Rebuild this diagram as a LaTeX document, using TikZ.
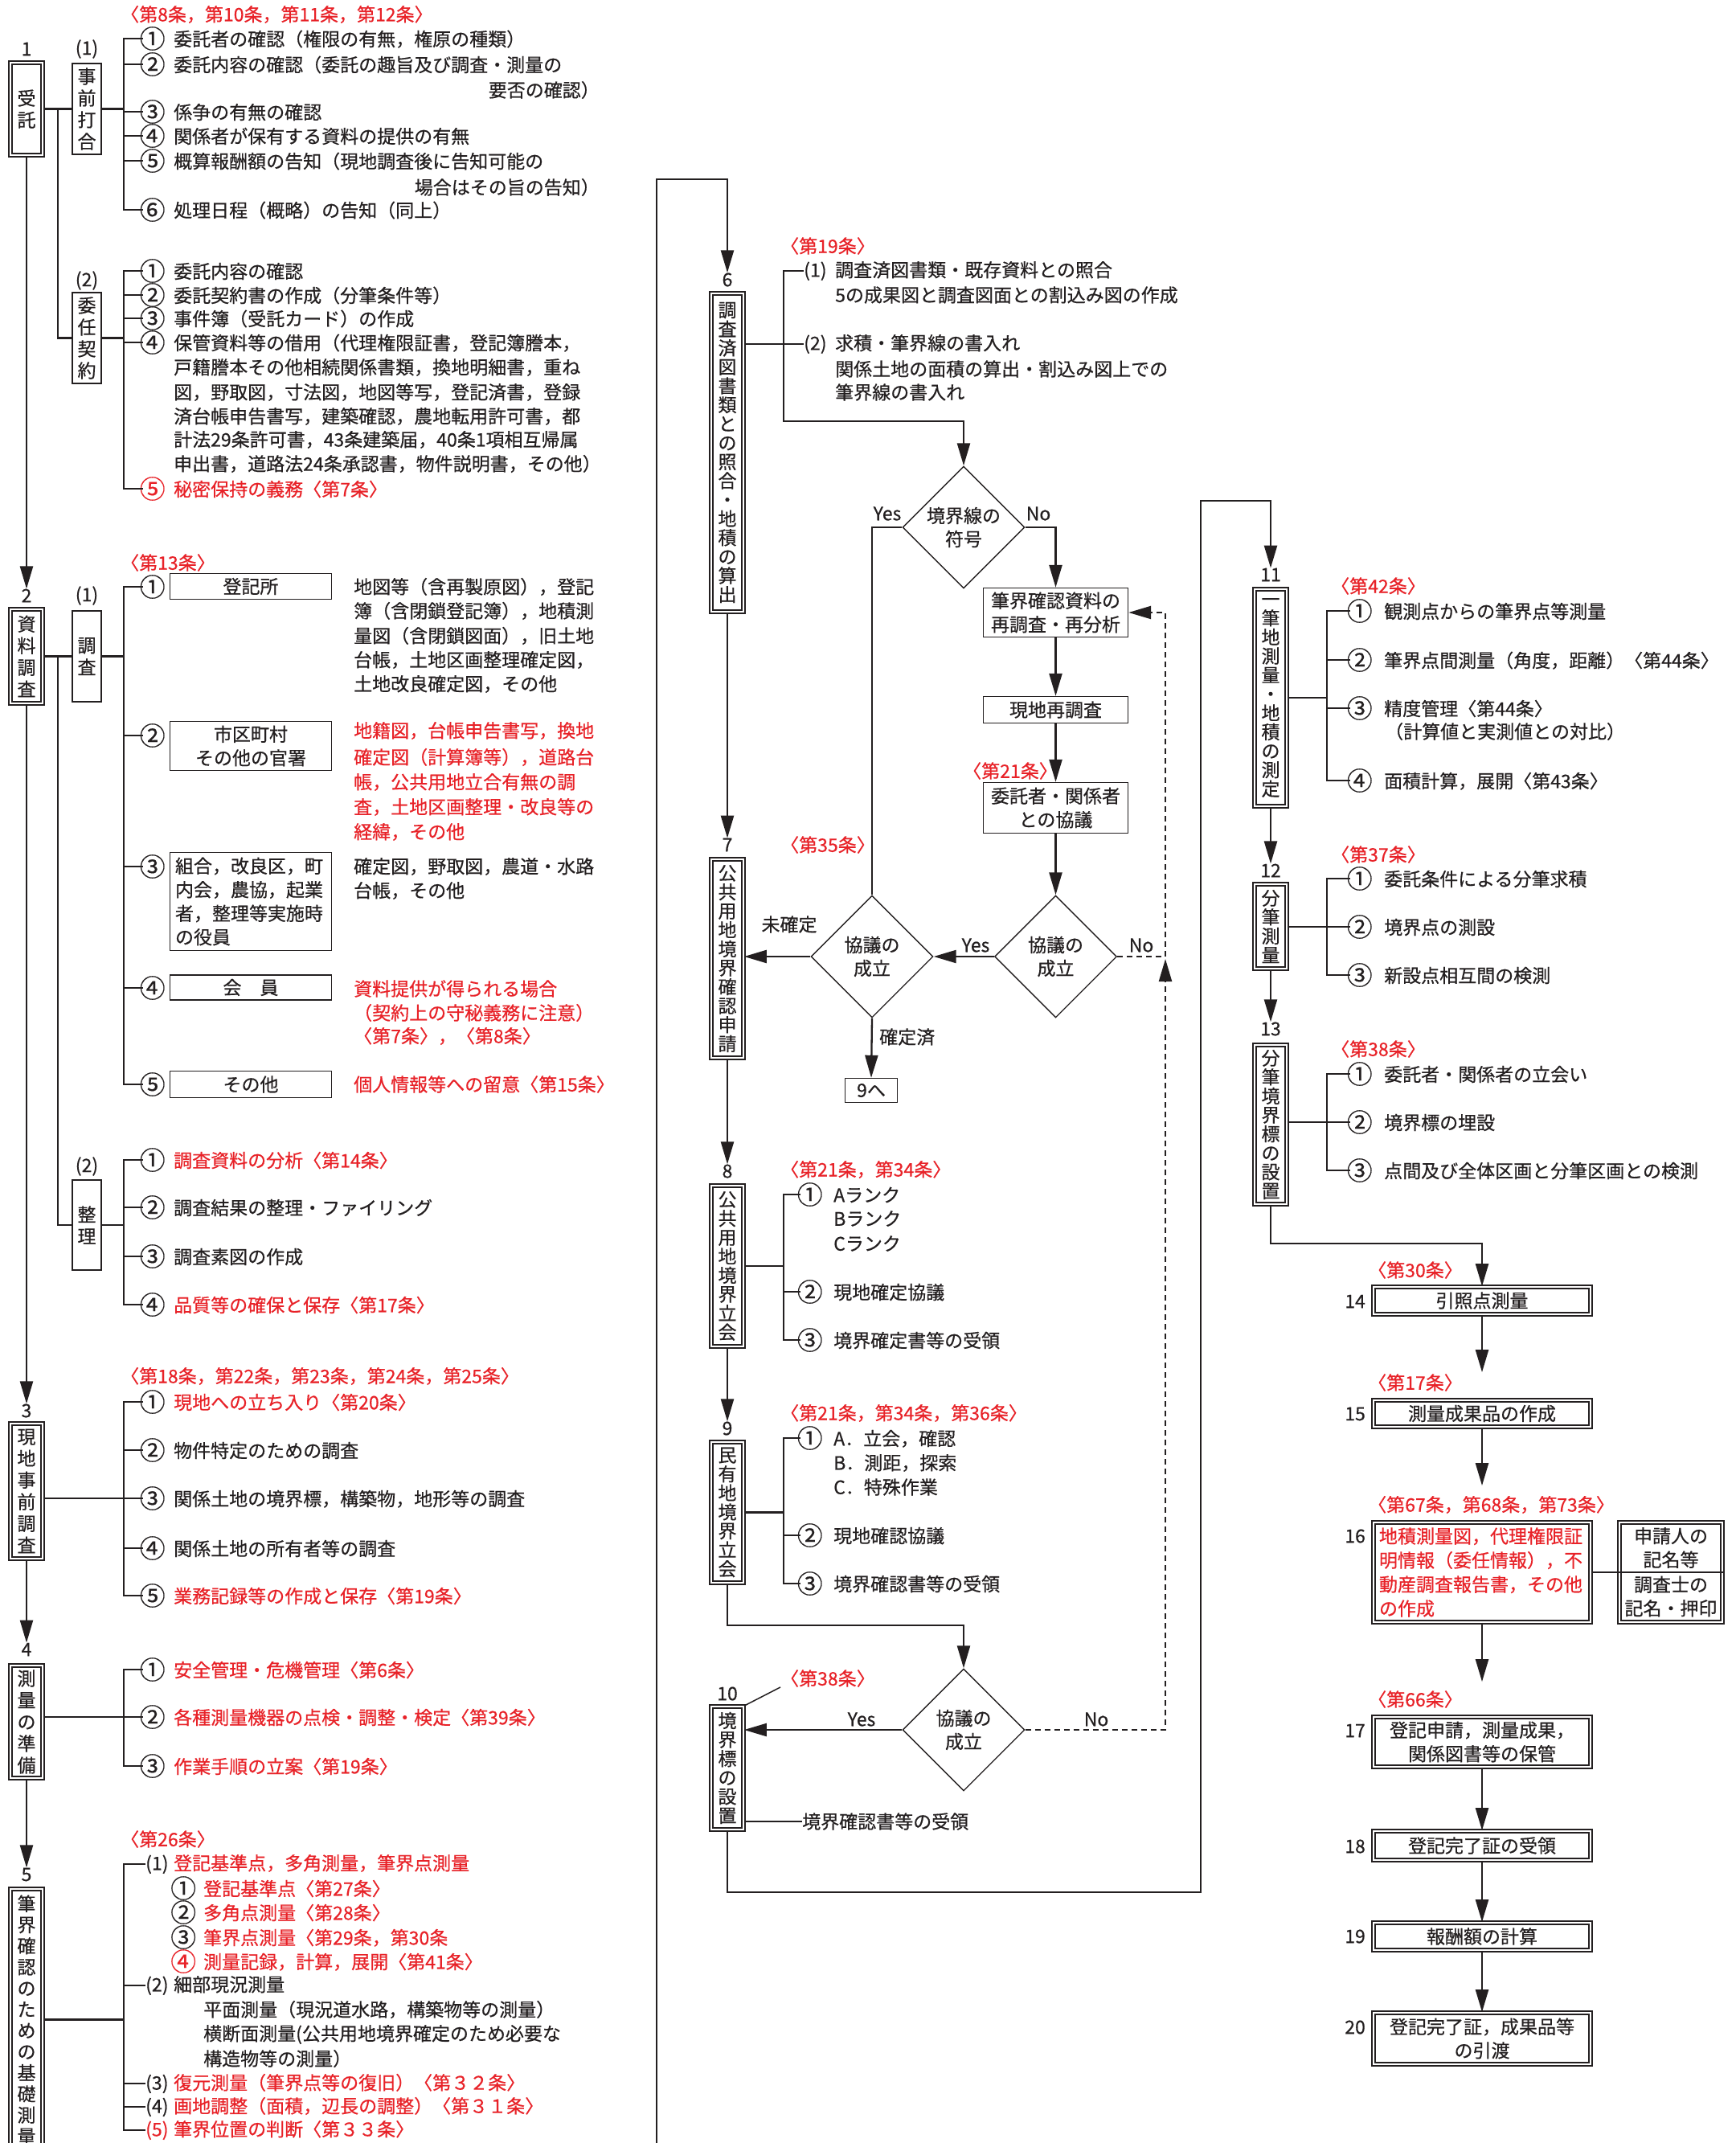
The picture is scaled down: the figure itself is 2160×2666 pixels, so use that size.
\documentclass[tikz,border=0pt]{standalone}
\usepackage{graphicx}
\usepackage{fontspec}
\setmainfont{Noto Sans CJK JP}[FakeBold=0.5]
\usetikzlibrary{arrows.meta,shapes.geometric}
\definecolor{jred}{RGB}{232,34,40}
\definecolor{ink}{RGB}{35,31,32}
\newcommand\R[1]{\textcolor{jred}{#1}}
\newcommand\cn[1]{\makebox[23pt][c]{\raisebox{-2.8pt}{\scalebox{1.38}{#1}}}}
\newcommand\fs{\fontsize{23}{30}\selectfont}
\tikzset{
 x=1pt, y=-1pt,
 every node/.style={inner sep=0pt, text=ink, font=\fs},
 tx/.style={anchor=west},
 rtx/.style={anchor=west, text=jred},
 dbox/.style={draw=ink, double=white, double distance=2.4pt, line width=1.7pt, align=center},
 sbox/.style={draw=ink, line width=2.2pt, align=center},
 tbox/.style={draw=ink, line width=1.4pt, align=center},
 vt/.style={font=\fontsize{23}{23.6}\selectfont},
 vtw/.style={font=\fontsize{23}{27}\selectfont},
 two/.style={align=center, font=\fontsize{23}{29.5}\selectfont},
 ln/.style={draw=ink, line width=2.3pt},
 arr/.style={ln, -{Triangle[length=28pt,width=16pt]}},
 dsh/.style={ln, dash pattern=on 7pt off 5pt},
 dia/.style={diamond, draw=ink, line width=1.4pt, minimum width=152pt, minimum height=152pt, align=center, font=\fontsize{23}{29}\selectfont},
}
\begin{document}
\begin{tikzpicture}
\clip (0,0) rectangle (2160,2666);
\fill[white] (0,0) rectangle (2160,2666);

%================ COLUMN 1 =================
% --- 1 受託
\node (n1) at (33,61) {1};
\node[dbox, vtw, minimum width=40pt, minimum height=115pt] (b1) at (33,135.5) {受\\託};
\node (p11) at (108,61) {(1)};
\node[sbox, vtw, minimum width=36pt, minimum height=113pt] (s11) at (108,135.5) {事\\前\\打\\合};
\node (p12) at (108,349) {(2)};
\node[sbox, vtw, minimum width=36pt, minimum height=113pt] (s12) at (108,420.5) {委\\任\\契\\約};
\draw[ln] (b1.east) -- (s11.west);
\coordinate (j1) at (72,135.5);
\draw[ln] (j1) |- (s12.west);
\draw[ln] (s11.east) -- ++(28,0);
\draw[ln] (s12.east) -- ++(28,0);

\node[rtx] (h1) at (150,18) {〈第8条，第10条，第11条，第12条〉};
\node[tx] (a1) at (178,48) {\cn{①}\hspace{15pt}委託者の確認（権限の有無，権原の種類）};
\node[tx] (a2) at (178,80) {\cn{②}\hspace{15pt}委託内容の確認（委託の趣旨及び調査・測量の};
\node[anchor=east] (a2b) at (746,112) {要否の確認）};
\node[tx] (a3) at (178,139) {\cn{③}\hspace{15pt}係争の有無の確認};
\node[tx] (a4) at (178,169) {\cn{④}\hspace{15pt}関係者が保有する資料の提供の有無};
\node[tx] (a5) at (178,200) {\cn{⑤}\hspace{15pt}概算報酬額の告知（現地調査後に告知可能の};
\node[anchor=east] (a5b) at (746,233) {場合はその旨の告知）};
\node[tx] (a6) at (178,261) {\cn{⑥}\hspace{15pt}処理日程（概略）の告知（同上）};
\draw[ln] (a1.west) -- ++(-24,0) |- (a6.west);
\foreach \n in {a2,a3,a4,a5} \draw[ln] (\n.west) -- ++(-24,0);

\node[tx] (c1) at (178,337) {\cn{①}\hspace{15pt}委託内容の確認};
\node[tx] (c2) at (178,367) {\cn{②}\hspace{15pt}委託契約書の作成（分筆条件等）};
\node[tx] (c3) at (178,396) {\cn{③}\hspace{15pt}事件簿（受託カード）の作成};
\node[tx] (c4) at (178,426) {\cn{④}\hspace{15pt}保管資料等の借用（代理権限証書，登記簿謄本，};
\node[tx] (c4a) at (216,457) {戸籍謄本その他相続関係書類，換地明細書，重ね};
\node[tx] (c4b) at (216,488) {図，野取図，寸法図，地図等写，登記済書，登録};
\node[tx] (c4c) at (216,518) {済台帳申告書写，建築確認，農地転用許可書，都};
\node[tx] (c4d) at (216,547) {計法29条許可書，43条建築届，40条1項相互帰属};
\node[tx] (c4e) at (216,577) {申出書，道路法24条承認書，物件説明書，その他）};
\node[rtx] (c5) at (178,608) {\cn{⑤}\hspace{15pt}秘密保持の義務〈第7条〉};
\draw[ln] (c1.west) -- ++(-24,0) |- (c5.west);
\foreach \n in {c2,c3,c4} \draw[ln] (\n.west) -- ++(-24,0);

% --- 2 資料調査
\node (n2) at (33,741) {2};
\draw[arr] (b1.south) -- (n2.north);
\node[dbox, vtw, minimum width=40pt, minimum height=117pt] (b2) at (33,816.5) {資\\料\\調\\査};
\node (p21) at (108,741) {(1)};
\node[sbox, vtw, minimum width=36pt, minimum height=113pt] (s21) at (108,816.5) {調\\査};
\draw[ln] (b2.east) -- (s21.west);
\draw[ln] (s21.east) -- ++(28,0);
\node[rtx] (h2) at (150,700) {〈第13条〉};

\node[tx] (k1) at (178,730) {\cn{①}};
\node[tbox, minimum width=201pt, minimum height=32pt] (k1b) at (312,729.5) {登記所};
\node[tx] (k1t1) at (440,730) {地図等（含再製原図），登記};
\node[tx] (k1t2) at (440,760) {簿（含閉鎖登記簿），地積測};
\node[tx] (k1t3) at (440,791) {量図（含閉鎖図面），旧土地};
\node[tx] (k1t4) at (440,821) {台帳，土地区画整理確定図，};
\node[tx] (k1t5) at (440,851) {土地改良確定図，その他};

\node[tx] (k2) at (178,915) {\cn{②}};
\node[tbox, two, minimum width=201pt, minimum height=61pt] (k2b) at (312,928) {市区町村\\その他の官署};
\node[rtx] (k2t1) at (440,909) {地籍図，台帳申告書写，換地};
\node[rtx] (k2t2) at (440,942) {確定図（計算簿等），道路台};
\node[rtx] (k2t3) at (440,973) {帳，公共用地立合有無の調};
\node[rtx] (k2t4) at (440,1004) {査，土地区画整理・改良等の};
\node[rtx] (k2t5) at (440,1035) {経緯，その他};

\node[tx] (k3) at (178,1078) {\cn{③}};
\node[tbox, minimum width=201pt, minimum height=122pt, align=left, text width=188pt, font=\fontsize{23}{29.5}\selectfont] (k3b) at (312,1121.5) {組合，改良区，町\\内会，農協，起業\\者，整理等実施時\\の役員};
\node[tx] (k3t1) at (440,1078) {確定図，野取図，農道・水路};
\node[tx] (k3t2) at (440,1108) {台帳，その他};

\node[tx] (k4) at (178,1229) {\cn{④}};
\node[tbox, minimum width=201pt, minimum height=31pt] (k4b) at (312,1228.5) {会　員};
\node[rtx] (k4t1) at (440,1230) {資料提供が得られる場合};
\node[rtx] (k4t2) at (440,1260) {（契約上の守秘義務に注意）};
\node[rtx] (k4t3) at (440,1289) {〈第7条〉，〈第8条〉};

\node[tx] (k5) at (178,1349) {\cn{⑤}};
\node[tbox, minimum width=201pt, minimum height=33pt] (k5b) at (312,1349) {その他};
\node[rtx] (k5t1) at (440,1349) {個人情報等への留意〈第15条〉};
\draw[ln] (k1.west) -- ++(-24,0) |- (k5.west);
\foreach \n in {k2,k3,k4} \draw[ln] (\n.west) -- ++(-24,0);

\node (p22) at (108,1451) {(2)};
\node[sbox, vtw, minimum width=36pt, minimum height=112pt] (s22) at (108,1524) {整\\理};
\coordinate (j2) at (72,816.5);
\draw[ln] (j2) |- (s22.west);
\draw[ln] (s22.east) -- ++(28,0);
\node[tx] (e1) at (178,1443) {\cn{①}\hspace{15pt}\R{調査資料の分析〈第14条〉}};
\node[tx] (e2) at (178,1502) {\cn{②}\hspace{15pt}調査結果の整理・ファイリング};
\node[tx] (e3) at (178,1563) {\cn{③}\hspace{15pt}調査素図の作成};
\node[tx] (e4) at (178,1623) {\cn{④}\hspace{15pt}\R{品質等の確保と保存〈第17条〉}};
\draw[ln] (e1.west) -- ++(-24,0) |- (e4.west);
\foreach \n in {e2,e3} \draw[ln] (\n.west) -- ++(-24,0);

% --- 3 現地事前調査
\node (n3) at (33,1755) {3};
\draw[arr] (b2.south) -- (n3.north);
\node[dbox, vtw, minimum width=40pt, minimum height=168pt] (b3) at (33,1855) {現\\地\\事\\前\\調\\査};
\node[rtx] (h3) at (150,1712) {〈第18条，第22条，第23条，第24条，第25条〉};
\node[tx] (f1) at (178,1744) {\cn{①}\hspace{15pt}\R{現地への立ち入り〈第20条〉}};
\node[tx] (f2) at (178,1804) {\cn{②}\hspace{15pt}物件特定のための調査};
\node[tx] (f3) at (178,1864) {\cn{③}\hspace{15pt}関係土地の境界標，構築物，地形等の調査};
\node[tx] (f4) at (178,1926) {\cn{④}\hspace{15pt}関係土地の所有者等の調査};
\node[tx] (f5) at (178,1985) {\cn{⑤}\hspace{15pt}\R{業務記録等の作成と保存〈第19条〉}};
\draw[ln] (f1.west) -- ++(-24,0) |- (f5.west);
\foreach \n in {f2,f4} \draw[ln] (\n.west) -- ++(-24,0);
\draw[ln] (b3.east |- f3.west) -- (f3.west);

% --- 4 測量の準備
\node (n4) at (33,2052) {4};
\draw[arr] (b3.south) -- (n4.north);
\node[dbox, vtw, minimum width=40pt, minimum height=140pt] (b4) at (33,2142) {測\\量\\の\\準\\備};
\node[tx] (q1) at (178,2077) {\cn{①}\hspace{15pt}\R{安全管理・危機管理〈第6条〉}};
\node[tx] (q2) at (178,2136) {\cn{②}\hspace{15pt}\R{各種測量機器の点検・調整・検定〈第39条〉}};
\node[tx] (q3) at (178,2197) {\cn{③}\hspace{15pt}\R{作業手順の立案〈第19条〉}};
\draw[ln] (q1.west) -- ++(-24,0) |- (q3.west);
\draw[ln] (b4.east |- q2.west) -- (q2.west);

% --- 5 筆界確認のための基礎測量
\node (n5) at (33,2332) {5};
\draw[arr] (b4.south) -- (n5.north);
\node[dbox, font=\fontsize{23}{26.3}\selectfont, minimum width=40pt, minimum height=325pt] (b5) at (33,2512.5) {筆\\界\\確\\認\\の\\た\\め\\の\\基\\礎\\測\\量};
\node[rtx] (h5) at (150,2288) {〈第26条〉};
\node[tx] (g1) at (181,2319) {\makebox[35pt][l]{(1)}\R{登記基準点，多角測量，筆界点測量}};
\node[tx] (g1a) at (216.5,2349) {\cn{①}\hspace{13.5pt}\R{登記基準点〈第27条〉}};
\node[tx] (g1b) at (216.5,2379) {\cn{②}\hspace{13.5pt}\R{多角点測量〈第28条〉}};
\node[tx] (g1c) at (216.5,2410) {\cn{③}\hspace{13.5pt}\R{筆界点測量〈第29条，第30条}};
\node[rtx] (g1d) at (216.5,2440) {\cn{④}\hspace{13.5pt}測量記録，計算，展開〈第41条〉};
\node[tx] (g2) at (181,2470) {\makebox[35pt][l]{(2)}細部現況測量};
\node[tx] (g2a) at (253,2500) {平面測量（現況道水路，構築物等の測量）};
\node[tx] (g2b) at (253,2531) {横断面測量(公共用地境界確定のため必要な};
\node[tx] (g2c) at (253,2561) {構造物等の測量）};
\node[tx] (g3) at (181,2592) {\makebox[35pt][l]{(3)}\R{復元測量（筆界点等の復旧）〈第３２条〉}};
\node[tx] (g4) at (181,2621) {\makebox[35pt][l]{(4)}\R{画地調整（面積，辺長の調整）〈第３１条〉}};
\node[rtx] (g5) at (181,2650) {\makebox[35pt][l]{(5)}筆界位置の判断〈第３３条〉};
\draw[ln] (g1.west) -- ++(-27,0) |- (g5.west);
\foreach \n in {g2,g3,g4} \draw[ln] (\n.west) -- ++(-27,0);
\draw[ln] (b5.east) -- ++(101,0);

%================ COLUMN 2 =================
\coordinate (lp0) at (817,2700);
\coordinate (lp1) at (817,223);
\node (n6) at (905,348) {6};
\draw[arr] (lp0) -- (lp1) -| (n6.north);
\node[dbox, vt, minimum width=40pt, minimum height=396pt] (b6) at (905,563) {調\\査\\済\\図\\書\\類\\と\\の\\照\\合\\・\\地\\積\\の\\算\\出};
\node[rtx] (h6) at (971,306) {〈第19条〉};
\node[tx] (m1) at (1000,337) {\makebox[39pt][l]{(1)}調査済図書類・既存資料との照合};
\node[tx] (m1a) at (1039,367) {5の成果図と調査図面との割込み図の作成};
\node[tx] (m2) at (1000,428) {\makebox[39pt][l]{(2)}求積・筆界線の書入れ};
\node[tx] (m2a) at (1039,459) {関係土地の面積の算出・割込み図上での};
\node[tx] (m2b) at (1039,488) {筆界線の書入れ};
\draw[ln] (b6.east |- m2.west) -- (m2.west);

\node[dia] (d1) at (1199,656) {境界線の\\符号};
\coordinate (q6) at (975,524);
\draw[arr] (m1.west) -- ++(-25,0) -- (q6) -| (d1.north);
\node (y1) at (1104,639) {Yes};
\node (no1) at (1292,639) {No};

\node[tbox, two, minimum width=180pt, minimum height=61pt] (r1) at (1313.5,762) {筆界確認資料の\\再調査・再分析};
\node[tbox, minimum width=180pt, minimum height=33pt] (r2) at (1313.5,883) {現地再調査};
\node[text=jred] (h7) at (1257,959) {〈第21条〉};
\node[tbox, two, minimum width=180pt, minimum height=63pt] (r3) at (1313.5,1005) {委託者・関係者\\との協議};
\draw[arr] (d1.east) -| (r1.north);
\draw[arr] (r1.south) -- (r2.north);
\draw[arr] (r2.south) -- (r3.north);

\node[dia] (d2) at (1313.5,1190) {協議の\\成立};
\draw[arr] (r3.south) -- (d2.north);
\node[dia] (d3) at (1085,1190) {協議の\\成立};
\draw[arr] (d2.west) -- (d3.east);
\node (y2) at (1214,1176) {Yes};
\node (no2) at (1420,1176) {No};
\draw[ln] (d1.west) -| (d3.north);
\coordinate (dc1) at (1450,1190);
\draw[dsh, -{Triangle[length=28pt,width=16pt]}] (d2.east) -- (dc1) |- (r1.east);

\node (n7) at (905,1051) {7};
\draw[arr] (b6.south) -- (n7.north);
\node[dbox, vt, minimum width=40pt, minimum height=247pt] (b7) at (905,1192.5) {公\\共\\用\\地\\境\\界\\確\\認\\申\\請};
\draw[arr] (d3.west) -- (b7.east |- d3.west);
\node[vt] (u1) at (982,1150) {未\\確\\定};
\node[rtx] (h8) at (971,1051) {〈第35条〉};
\node[tbox, minimum width=65pt, minimum height=30pt] (g9) at (1084,1356.5) {9へ};
\draw[arr] (d3.south) -- (g9.north);
\node[tx] (kz) at (1094,1290) {確定済};

\node (n8) at (905,1457) {8};
\draw[arr] (b7.south) -- (n8.north);
\node[dbox, vt, minimum width=40pt, minimum height=200pt] (b8) at (905,1575) {公\\共\\用\\地\\境\\界\\立\\会};
\node[rtx] (h9) at (971,1455) {〈第21条，第34条〉};
\node[tx] (o1) at (996,1486) {\cn{①}\hspace{18pt}Aランク};
\node[tx] (o1a) at (1037,1516) {Bランク};
\node[tx] (o1b) at (1037,1547) {Cランク};
\node[tx] (o2) at (996,1607) {\cn{②}\hspace{18pt}現地確定協議};
\node[tx] (o3) at (996,1667) {\cn{③}\hspace{18pt}境界確定書等の受領};
\draw[ln] (o1.west) -- ++(-21,0) |- (o3.west);
\draw[ln] (o2.west) -- ++(-21,0);
\draw[ln] (b8.east) -- ++(50,0);

\node (n9) at (905,1777) {9};
\draw[arr] (b8.south) -- (n9.north);
\node[dbox, vt, minimum width=40pt, minimum height=175pt] (b9) at (905,1881.5) {民\\有\\地\\境\\界\\立\\会};
\node[rtx] (h10) at (971,1758) {〈第21条，第34条，第36条〉};
\node[tx] (v1) at (996,1789) {\cn{①}\hspace{18pt}A．立会，確認};
\node[tx] (v1a) at (1037,1820) {B．測距，探索};
\node[tx] (v1b) at (1037,1850) {C．特殊作業};
\node[tx] (v2) at (996,1910) {\cn{②}\hspace{18pt}現地確認協議};
\node[tx] (v3) at (996,1970) {\cn{③}\hspace{18pt}境界確認書等の受領};
\draw[ln] (v1.west) -- ++(-21,0) |- (v3.west);
\draw[ln] (v2.west) -- ++(-21,0);
\draw[ln] (b9.east) -- ++(50,0);

\node[dia] (d4) at (1199,2152) {協議の\\成立};
\coordinate (c9) at (905,2022);
\draw[arr] (b9.south) -- (c9) -| (d4.north);
\node (n10) at (905,2107) {10};
\node[dbox, vt, minimum width=40pt, minimum height=153pt] (b10) at (905,2199.5) {境\\界\\標\\の\\設\\置};
\draw[arr] (d4.west) -- (b10.east |- d4.west);
\node (y4) at (1072,2139) {Yes};
\node (no4) at (1364,2139) {No};
\coordinate (dc2) at (1450,2152);
\coordinate (dc3) at (1450,1193);
\draw[dsh, -{Triangle[length=28pt,width=16pt]}] (d4.east) -- (dc2) -- (dc3);
\node[rtx] (h11) at (971,2088) {〈第38条〉};
\draw[draw=ink, line width=1.5pt] (h11.south west) -- (b10.north east);
\node[tx] (w1) at (998,2266) {境界確認書等の受領};
\draw[ln] (b10.east |- w1.west) -- (w1.west);

\coordinate (c10) at (905,2354);
\coordinate (c11) at (1494,2354);
\coordinate (c12) at (1494,623);
\node (n11) at (1581,715) {11};
\draw[arr] (b10.south) -- (c10) -- (c11) -- (c12) -| (n11.north);

%================ COLUMN 3 =================
\node[dbox, vt, minimum width=40pt, minimum height=270pt] (b11) at (1581,868) {一\\筆\\地\\測\\量\\・\\地\\積\\の\\測\\定};
\node[rtx] (h12) at (1656,729) {〈第42条〉};
\node[tx] (x1) at (1680,760) {\cn{①}\hspace{19pt}観測点からの筆界点等測量};
\node[tx] (x2) at (1680,821) {\cn{②}\hspace{19pt}筆界点間測量（角度，距離）〈第44条〉};
\node[tx] (x3) at (1680,881) {\cn{③}\hspace{19pt}精度管理〈第44条〉};
\node[tx] (x3a) at (1723,910) {（計算値と実測値との対比）};
\node[tx] (x4) at (1680,971) {\cn{④}\hspace{19pt}面積計算，展開〈第43条〉};
\draw[ln] (x1.west) -- ++(-29,0) |- (x4.west);
\foreach \n in {x2,x3} \draw[ln] (\n.west) -- ++(-29,0);
\draw[ln] (b11.east) -- ++(50,0);

\node (n12) at (1581,1083) {12};
\draw[arr] (b11.south) -- (n12.north);
\node[dbox, vt, minimum width=40pt, minimum height=105pt] (b12) at (1581,1152.5) {分\\筆\\測\\量};
\node[rtx] (h13) at (1656,1063) {〈第37条〉};
\node[tx] (z1) at (1680,1093) {\cn{①}\hspace{19pt}委託条件による分筆求積};
\node[tx] (z2) at (1680,1153) {\cn{②}\hspace{19pt}境界点の測設};
\node[tx] (z3) at (1680,1213) {\cn{③}\hspace{19pt}新設点相互間の検測};
\draw[ln] (z1.west) -- ++(-29,0) |- (z3.west);
\draw[ln] (b12.east |- z2.west) -- (z2.west);

\node (n13) at (1581,1280) {13};
\draw[arr] (b12.south) -- (n13.north);
\node[dbox, vt, minimum width=40pt, minimum height=198pt] (b13) at (1581,1399) {分\\筆\\境\\界\\標\\の\\設\\置};
\node[rtx] (h14) at (1656,1305) {〈第38条〉};
\node[tx] (t1) at (1680,1336) {\cn{①}\hspace{19pt}委託者・関係者の立会い};
\node[tx] (t2) at (1680,1396) {\cn{②}\hspace{19pt}境界標の埋設};
\node[tx] (t3) at (1680,1456) {\cn{③}\hspace{19pt}点間及び全体区画と分筆区画との検測};
\draw[ln] (t1.west) -- ++(-29,0) |- (t3.west);
\draw[ln] (b13.east |- t2.west) -- (t2.west);

% boxes 14-20
\node[rtx] (h15) at (1702,1580) {〈第30条〉};
\node[dbox, minimum width=270pt, minimum height=34pt] (b14) at (1844,1618) {引照点測量};
\node[anchor=east] (n14) at (1699,1619) {14};
\coordinate (c13) at (1581,1547);
\draw[arr] (b13.south) -- (c13) -| (b14.north);

\node[rtx] (h16) at (1702,1720) {〈第17条〉};
\node[dbox, minimum width=270pt, minimum height=33pt] (b15) at (1844,1758.5) {測量成果品の作成};
\node[anchor=east] (n15) at (1699,1759) {15};
\draw[arr, shorten >=34pt] (b14.south) -- (b15.north);

\node[rtx] (h17) at (1702,1872) {〈第67条，第68条，第73条〉};
\node[dbox, minimum width=270pt, minimum height=124pt, text=jred, align=left, text width=256pt, font=\fontsize{23}{30}\selectfont] (b16) at (1844,1956) {地積測量図，代理権限証\\明情報（委任情報），不\\動産調査報告書，その他\\の作成};
\node[anchor=east] (n16) at (1699,1911) {16};
\draw[arr, shorten >=45pt] (b15.south) -- (b16.north);
\node[dbox, minimum width=128pt, minimum height=124pt] (b16s) at (2079,1956) {};
\node[two] (s16a) at (2079,1925.5) {申請人の\\記名等};
\node[two] (s16b) at (2079,1986) {調査士の\\記名・押印};
\draw[draw=ink, line width=1.8pt] (b16s.west) -- (b16s.east);
\draw[draw=ink, line width=1.8pt] (b16.east) -- (b16s.west);

\node[rtx] (h18) at (1702,2114) {〈第66条〉};
\node[dbox, two, minimum width=270pt, minimum height=62pt] (b17) at (1844,2167) {登記申請，測量成果，\\関係図書等の保管};
\node[anchor=east] (n17) at (1699,2153) {17};
\draw[arr, shorten >=43pt] (b16.south) -- (b17.north);

\node[dbox, minimum width=270pt, minimum height=36pt] (b18) at (1844,2296) {登記完了証の受領};
\node[anchor=east] (n18) at (1699,2297) {18};
\draw[arr] (b17.south) -- (b18.north);

\node[dbox, minimum width=270pt, minimum height=34pt] (b19) at (1844,2409) {報酬額の計算};
\node[anchor=east] (n19) at (1699,2409) {19};
\draw[arr] (b18.south) -- (b19.north);

\node[dbox, two, minimum width=270pt, minimum height=64pt] (b20) at (1844,2536) {登記完了証，成果品等\\の引渡};
\node[anchor=east] (n20) at (1699,2522) {20};
\draw[arr] (b19.south) -- (b20.north);
\end{tikzpicture}
\end{document}
